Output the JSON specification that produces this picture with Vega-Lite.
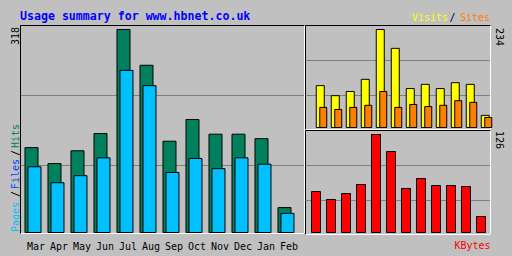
{
  "$schema": "https://vega.github.io/schema/vega-lite/v6.json",
  "background": "#C0C0C0",
  "padding": {"left": 10, "top": 10, "right": 10, "bottom": 10},
  "datasets": {
    "main": [
      {"month": "Mar", "series": "Hits", "value": 133},
      {"month": "Apr", "series": "Hits", "value": 108},
      {"month": "May", "series": "Hits", "value": 128},
      {"month": "Jun", "series": "Hits", "value": 155},
      {"month": "Jul", "series": "Hits", "value": 318},
      {"month": "Aug", "series": "Hits", "value": 262},
      {"month": "Sep", "series": "Hits", "value": 143},
      {"month": "Oct", "series": "Hits", "value": 177},
      {"month": "Nov", "series": "Hits", "value": 154},
      {"month": "Dec", "series": "Hits", "value": 154},
      {"month": "Jan", "series": "Hits", "value": 147},
      {"month": "Feb", "series": "Hits", "value": 39},
      {"month": "Mar", "series": "Pages", "value": 103},
      {"month": "Apr", "series": "Pages", "value": 78},
      {"month": "May", "series": "Pages", "value": 89},
      {"month": "Jun", "series": "Pages", "value": 117},
      {"month": "Jul", "series": "Pages", "value": 254},
      {"month": "Aug", "series": "Pages", "value": 230},
      {"month": "Sep", "series": "Pages", "value": 94},
      {"month": "Oct", "series": "Pages", "value": 116},
      {"month": "Nov", "series": "Pages", "value": 100},
      {"month": "Dec", "series": "Pages", "value": 117},
      {"month": "Jan", "series": "Pages", "value": 107},
      {"month": "Feb", "series": "Pages", "value": 30}
    ],
    "vs": [
      {"month": "Mar", "series": "Visits", "value": 100},
      {"month": "Apr", "series": "Visits", "value": 76},
      {"month": "May", "series": "Visits", "value": 86},
      {"month": "Jun", "series": "Visits", "value": 115},
      {"month": "Jul", "series": "Visits", "value": 234},
      {"month": "Aug", "series": "Visits", "value": 189},
      {"month": "Sep", "series": "Visits", "value": 93},
      {"month": "Oct", "series": "Visits", "value": 103},
      {"month": "Nov", "series": "Visits", "value": 93},
      {"month": "Dec", "series": "Visits", "value": 107},
      {"month": "Jan", "series": "Visits", "value": 103},
      {"month": "Feb", "series": "Visits", "value": 29},
      {"month": "Mar", "series": "Sites", "value": 48},
      {"month": "Apr", "series": "Sites", "value": 43},
      {"month": "May", "series": "Sites", "value": 48},
      {"month": "Jun", "series": "Sites", "value": 53},
      {"month": "Jul", "series": "Sites", "value": 86},
      {"month": "Aug", "series": "Sites", "value": 48},
      {"month": "Sep", "series": "Sites", "value": 55},
      {"month": "Oct", "series": "Sites", "value": 50},
      {"month": "Nov", "series": "Sites", "value": 53},
      {"month": "Dec", "series": "Sites", "value": 64},
      {"month": "Jan", "series": "Sites", "value": 60},
      {"month": "Feb", "series": "Sites", "value": 24}
    ],
    "kb": [
      {"month": "Mar", "value": 52.7},
      {"month": "Apr", "value": 42.4},
      {"month": "May", "value": 50.1},
      {"month": "Jun", "value": 61.7},
      {"month": "Jul", "value": 126},
      {"month": "Aug", "value": 104.1},
      {"month": "Sep", "value": 56.6},
      {"month": "Oct", "value": 69.4},
      {"month": "Nov", "value": 60.4},
      {"month": "Dec", "value": 60.4},
      {"month": "Jan", "value": 59.1},
      {"month": "Feb", "value": 20.6}
    ]
  },
  "config": {
    "view": {"stroke": "black", "strokeWidth": 1},
    "axis": {
      "ticks": false,
      "labelFont": "DejaVu Sans Mono",
      "labelFontSize": 10,
      "titleFont": "DejaVu Sans Mono",
      "labelOverlap": false,
      "labelFlush": false,
      "gridColor": "#808080",
      "gridWidth": 1
    }
  },
  "spacing": 1,
  "bounds": "flush",
  "hconcat": [
    {
      "width": 284,
      "height": 208,
      "title": {
        "text": "Usage summary for www.hbnet.co.uk",
        "anchor": "start",
        "frame": "group",
        "font": "DejaVu Sans Mono",
        "fontSize": 11.6,
        "fontWeight": "bold",
        "color": "#0000FF",
        "baseline": "alphabetic",
        "offset": -6.5
      },
      "data": {"name": "main"},
      "resolve": {"axis": {"y": "independent"}},
      "encoding": {
        "x": {
          "field": "month",
          "type": "ordinal",
          "sort": ["Mar", "Apr", "May", "Jun", "Jul", "Aug", "Sep", "Oct", "Nov", "Dec", "Jan", "Feb"],
          "scale": {"paddingInner": 0.47826, "paddingOuter": 0.41304, "align": 0.5263, "round": false},
          "axis": {
            "orient": "bottom",
            "title": null,
            "labelAngle": 0,
            "domainColor": "white",
            "labelColor": "black",
            "labelPadding": 16,
            "labelBaseline": "alphabetic"
          }
        },
        "xOffset": {
          "field": "series",
          "type": "nominal",
          "sort": ["Hits", "Pages"],
          "scale": {"domain": ["Hits", "Pages"], "paddingInner": 0, "paddingOuter": 0}
        }
      },
      "layer": [
        {
          "transform": [{"filter": "datum.series == 'Hits'"}],
          "mark": {"type": "bar", "width": 13, "fill": "#00805C", "stroke": "black", "strokeWidth": 1},
          "encoding": {
            "y": {
              "field": "value",
              "type": "quantitative",
              "stack": null,
              "scale": {"domain": [-0.78, 325.07], "nice": false, "zero": false},
              "axis": {
                "orient": "left",
                "title": null,
                "domainColor": "black",
                "values": [322.7, 170.8, 130, 115.9, 65.8, 48.6, 215.4, 105.75],
                "labelExpr": "datum.value == 322.7 ? '318' : datum.value == 170.8 ? 'Hits' : datum.value == 130 ? '/' : datum.value == 115.9 ? 'Files' : datum.value == 65.8 ? '/' : datum.value == 48.6 ? 'Pages' : ''",
                "labelAngle": -90,
                "labelAlign": "right",
                "labelBaseline": "middle",
                "labelPadding": 4.5,
                "labelBound": false,
                "labelColor": {
                  "condition": [
                    {"test": "datum.value == 170.8", "value": "#00805C"},
                    {"test": "datum.value == 115.9", "value": "#0040FF"},
                    {"test": "datum.value == 48.6", "value": "#00C0FF"}
                  ],
                  "value": "black"
                },
                "grid": true,
                "gridOpacity": {
                  "condition": {"test": "datum.value == 215.4 || datum.value == 105.75", "value": 1},
                  "value": 0
                }
              }
            }
          }
        },
        {
          "transform": [{"filter": "datum.series == 'Pages'"}],
          "mark": {"type": "bar", "width": 13, "fill": "#00C0FF", "stroke": "black", "strokeWidth": 1},
          "encoding": {
            "y": {
              "field": "value",
              "type": "quantitative",
              "stack": null,
              "scale": {"domain": [-0.78, 325.07], "nice": false, "zero": false},
              "axis": {
                "orient": "right",
                "title": null,
                "labels": false,
                "grid": false,
                "domainColor": "white"
              }
            }
          }
        }
      ]
    },
    {
      "spacing": 1,
      "bounds": "flush",
      "vconcat": [
        {
          "width": 185,
          "height": 104,
          "data": {"name": "vs"},
          "resolve": {"axis": {"x": "independent"}},
          "encoding": {
            "xOffset": {
              "field": "series",
              "type": "nominal",
              "sort": ["Visits", "Sites"],
              "scale": {"domain": ["Visits", "Sites"], "paddingInner": 0, "paddingOuter": 0}
            },
            "y": {
              "field": "value",
              "type": "quantitative",
              "stack": null,
              "scale": {"domain": [-3.58, 244.75], "nice": false, "zero": false},
              "axis": {
                "orient": "right",
                "title": null,
                "domainColor": "white",
                "values": [238.8, 161.2, 77.6],
                "labelExpr": "datum.value == 238.8 ? '234' : ''",
                "labelAngle": 90,
                "labelAlign": "left",
                "labelBaseline": "middle",
                "labelPadding": 8,
                "labelBound": false,
                "labelColor": "black",
                "grid": true,
                "gridOpacity": {
                  "condition": {"test": "datum.value == 161.2 || datum.value == 77.6", "value": 1},
                  "value": 0
                }
              }
            }
          },
          "layer": [
            {
              "transform": [{"filter": "datum.series == 'Visits'"}],
              "mark": {"type": "bar", "width": 8, "fill": "#FFFF00", "stroke": "black", "strokeWidth": 1},
              "encoding": {
                "x": {
                  "field": "month",
                  "type": "ordinal",
                  "sort": ["Mar", "Apr", "May", "Jun", "Jul", "Aug", "Sep", "Oct", "Nov", "Dec", "Jan", "Feb"],
                  "scale": {"paddingInner": 0.53333, "paddingOuter": 0.43333, "align": 0.5962, "round": false},
                  "axis": {
                    "orient": "top",
                    "title": null,
                    "labelAngle": 0,
                    "domainColor": "black",
                    "values": ["Nov", "Dec", "Jan"],
                    "labelExpr": "datum.value == 'Nov' ? 'Visits' : datum.value == 'Dec' ? '/' : 'Sites'",
                    "labelColor": {
                      "condition": [
                        {"test": "datum.value == 'Nov'", "value": "#FFFF00"},
                        {"test": "datum.value == 'Jan'", "value": "#FF8000"}
                      ],
                      "value": "black"
                    },
                    "labelOffset": {
                      "condition": [
                        {"test": "datum.value == 'Nov'", "value": -6.25},
                        {"test": "datum.value == 'Jan'", "value": 8.75}
                      ],
                      "value": 1.25
                    },
                    "labelPadding": 5,
                    "labelBaseline": "alphabetic"
                  }
                }
              }
            },
            {
              "transform": [{"filter": "datum.series == 'Sites'"}],
              "mark": {"type": "bar", "width": 7, "fill": "#FF8000", "stroke": "black", "strokeWidth": 1},
              "encoding": {
                "x": {
                  "field": "month",
                  "type": "ordinal",
                  "sort": ["Mar", "Apr", "May", "Jun", "Jul", "Aug", "Sep", "Oct", "Nov", "Dec", "Jan", "Feb"],
                  "scale": {"paddingInner": 0.53333, "paddingOuter": 0.43333, "align": 0.5962, "round": false},
                  "axis": {
                    "orient": "bottom",
                    "title": null,
                    "labels": false,
                    "domainColor": "white"
                  }
                }
              }
            }
          ]
        },
        {
          "width": 185,
          "height": 104,
          "data": {"name": "kb"},
          "mark": {"type": "bar", "width": 9, "fill": "#FF0000", "stroke": "black", "strokeWidth": 1},
          "encoding": {
            "x": {
              "field": "month",
              "type": "ordinal",
              "sort": ["Mar", "Apr", "May", "Jun", "Jul", "Aug", "Sep", "Oct", "Nov", "Dec", "Jan", "Feb"],
              "scale": {"paddingInner": 0.53333, "paddingOuter": 0.43333, "align": 0.5769, "round": false},
              "axis": {
                "orient": "bottom",
                "labels": false,
                "domainColor": "white",
                "title": "KBytes",
                "titleColor": "#FF0000",
                "titleFont": "DejaVu Sans Mono",
                "titleFontSize": 10,
                "titleFontWeight": "normal",
                "titleAnchor": "end",
                "titleBaseline": "alphabetic",
                "titlePadding": 14
              }
            },
            "y": {
              "field": "value",
              "type": "quantitative",
              "scale": {"domain": [-1.93, 131.78], "nice": false, "zero": false},
              "axis": {
                "orient": "right",
                "title": null,
                "domainColor": "white",
                "values": [131.1, 86.78, 41.78],
                "labelExpr": "datum.value == 131.1 ? '126' : ''",
                "labelAngle": 90,
                "labelAlign": "left",
                "labelBaseline": "middle",
                "labelPadding": 8,
                "labelBound": false,
                "labelColor": "black",
                "grid": true,
                "gridOpacity": {
                  "condition": {"test": "datum.value == 86.78 || datum.value == 41.78", "value": 1},
                  "value": 0
                }
              }
            }
          }
        }
      ]
    }
  ]
}
